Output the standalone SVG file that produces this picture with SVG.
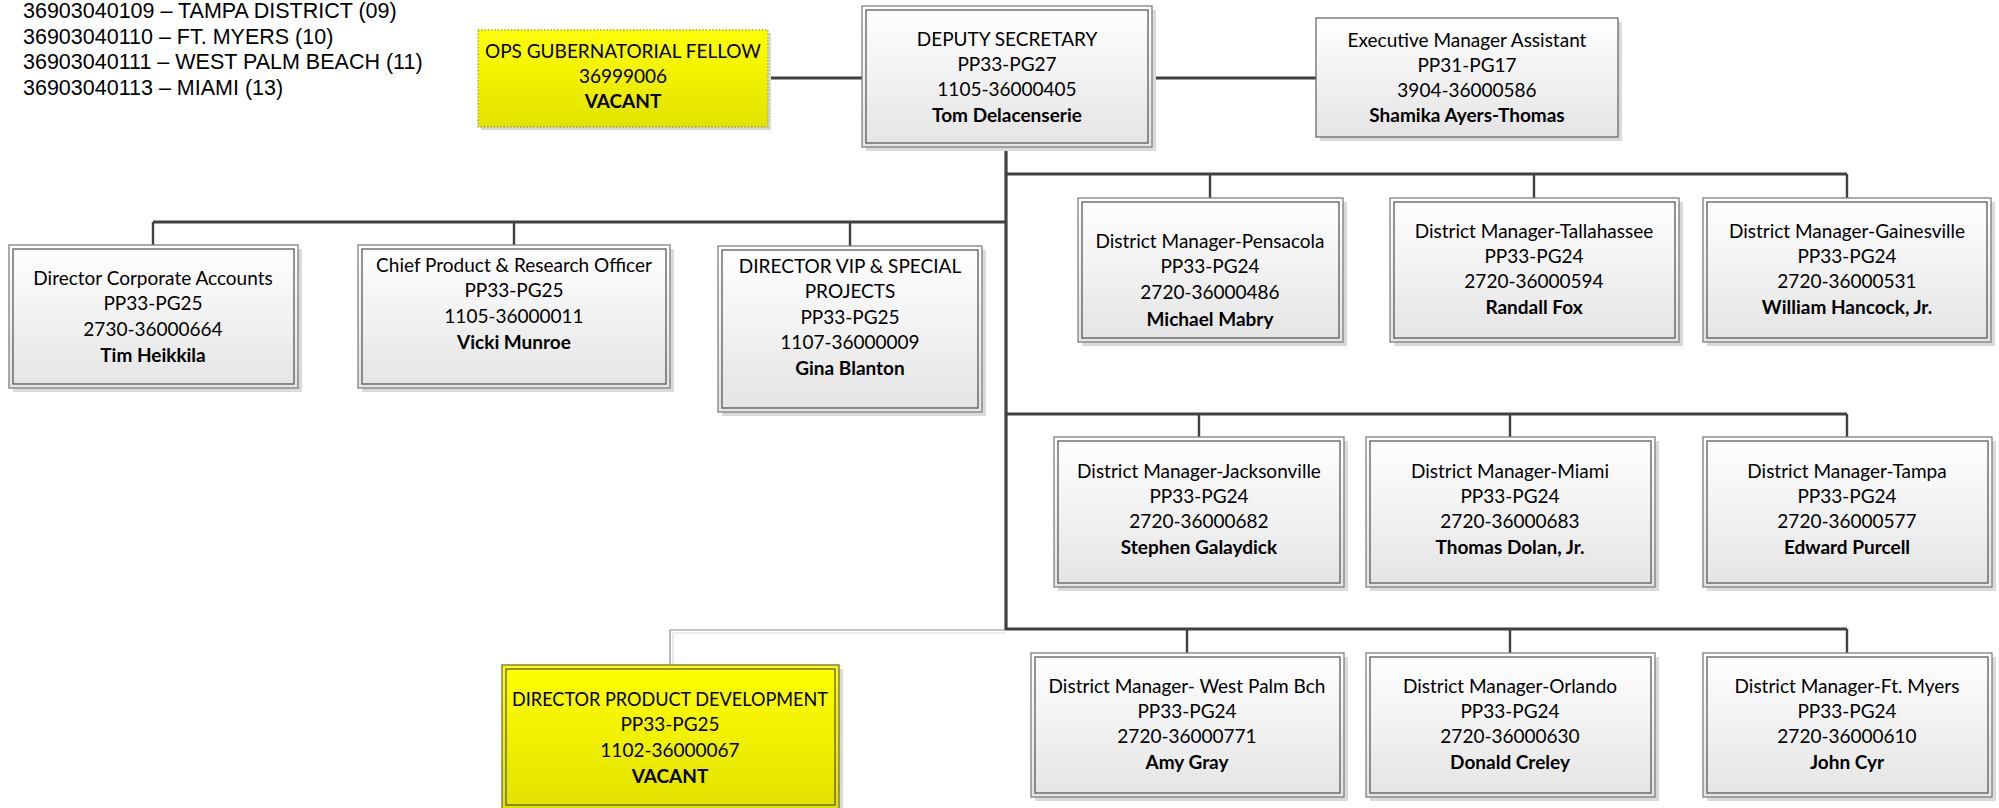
<svg xmlns="http://www.w3.org/2000/svg" width="1999" height="808" viewBox="0 0 1999 808">
  <defs>
    <linearGradient id="gFill" x1="0" y1="0" x2="0" y2="1">
      <stop offset="0" stop-color="#ffffff"/>
      <stop offset="1" stop-color="#e4e4e4"/>
    </linearGradient>
    <linearGradient id="yFill" x1="0" y1="0" x2="0" y2="1">
      <stop offset="0" stop-color="#ffff00"/>
      <stop offset="1" stop-color="#e2e200"/>
    </linearGradient>
  </defs>
  <style>
    .bg { fill: #ffffff; }
    .shadow { fill: #dadada; }
    .outer { fill: url(#gFill); stroke: #7f7f7f; stroke-width: 1.3; }
    .inner { fill: none; stroke: #5a5a5a; stroke-width: 1.3; }
    .single { fill: url(#gFill); stroke: #6a6a6a; stroke-width: 1.3; }
    .youter { fill: url(#yFill); stroke: #6f6f45; stroke-width: 1.3; }
    .yinner { fill: none; stroke: #5a5a3a; stroke-width: 1.3; }
    .ydot { fill: url(#yFill); stroke: #9a9a30; stroke-width: 1.3; stroke-dasharray: 1.3 2; }
    .t { font-family: Lato, "Liberation Sans", sans-serif; font-size: 19px; fill: #000; text-anchor: middle; }
    .b { font-weight: bold; }
    .legend { font-family: "Liberation Sans", Arial, sans-serif; font-size: 21.5px; fill: #000; }
    .main { fill: none; stroke: #404040; stroke-width: 3.2; }
    .drop { fill: none; stroke: #404040; stroke-width: 2.4; }
    .thin { fill: none; stroke: #8a8a8a; stroke-width: 1.2; }
    .thinShadow { fill: none; stroke: #dcdcdc; stroke-width: 1.2; }
  </style>

  <rect class="bg" x="0" y="0" width="1999" height="808"/>

  <!-- district code legend -->
  <g id="legend">
    <text class="legend" x="23" y="18">36903040109 – TAMPA DISTRICT (09)</text>
    <text class="legend" x="23" y="43.5">36903040110 – FT. MYERS (10)</text>
    <text class="legend" x="23" y="69">36903040111 – WEST PALM BEACH (11)</text>
    <text class="legend" x="23" y="94.5">36903040113 – MIAMI (13)</text>
  </g>

  <!-- reporting lines -->
  <g id="connectors">
    <path class="thinShadow" d="M1006,633 H673 V665"/>
    <path class="thin" d="M1006,630 H670 V665"/>
    <path class="main" d="M768,78 H862"/>
    <path class="main" d="M1152,78 H1316"/>
    <path class="main" d="M1006,147 V630"/>
    <path class="main" d="M153,222 H1006"/>
    <path class="main" d="M1006,174 H1847"/>
    <path class="main" d="M1006,414 H1847"/>
    <path class="main" d="M1006,629 H1847"/>
    <path class="drop" d="M153,222 V245 M514,222 V245 M850,222 V246"/>
    <path class="drop" d="M1210,174 V198 M1534,174 V198 M1847,174 V198"/>
    <path class="drop" d="M1199,414 V437 M1510,414 V437 M1847,414 V437"/>
    <path class="drop" d="M1187,629 V653 M1510,629 V653 M1847,629 V653"/>
  </g>

  <g id="ops-fellow">
    <rect class="shadow" x="481" y="33" width="290" height="97"/>
    <rect class="ydot" x="478" y="30" width="290" height="97"/>
    <text class="t" x="623" y="58">OPS GUBERNATORIAL FELLOW</text>
    <text class="t" x="623" y="83">36999006</text>
    <text class="t b" x="623" y="108">VACANT</text>
  </g>

  <g id="deputy-secretary">
    <rect class="shadow" x="866" y="10" width="290" height="141"/>
    <rect class="outer" x="862" y="6" width="290" height="141"/>
    <rect class="inner" x="866" y="10" width="282" height="133"/>
    <text class="t" x="1007" y="46">DEPUTY SECRETARY</text>
    <text class="t" x="1007" y="71">PP33-PG27</text>
    <text class="t" x="1007" y="96">1105-36000405</text>
    <text class="t b" x="1007" y="122">Tom Delacenserie</text>
  </g>

  <g id="exec-assistant">
    <rect class="shadow" x="1320" y="22" width="302" height="119"/>
    <rect class="single" x="1316" y="18" width="302" height="119"/>
    <text class="t" x="1467" y="47">Executive Manager Assistant</text>
    <text class="t" x="1467" y="72">PP31-PG17</text>
    <text class="t" x="1467" y="97">3904-36000586</text>
    <text class="t b" x="1467" y="122">Shamika Ayers-Thomas</text>
  </g>

  <g id="dir-corporate">
    <rect class="shadow" x="13" y="249" width="289" height="143"/>
    <rect class="outer" x="9" y="245" width="289" height="143"/>
    <rect class="inner" x="13" y="249" width="281" height="135"/>
    <text class="t" x="153" y="285">Director Corporate Accounts</text>
    <text class="t" x="153" y="310">PP33-PG25</text>
    <text class="t" x="153" y="336">2730-36000664</text>
    <text class="t b" x="153" y="362">Tim Heikkila</text>
  </g>

  <g id="chief-product">
    <rect class="shadow" x="362" y="249" width="312" height="143"/>
    <rect class="outer" x="358" y="245" width="312" height="143"/>
    <rect class="inner" x="362" y="249" width="304" height="135"/>
    <text class="t" x="514" y="272">Chief Product &amp; Research Officer</text>
    <text class="t" x="514" y="297">PP33-PG25</text>
    <text class="t" x="514" y="323">1105-36000011</text>
    <text class="t b" x="514" y="349">Vicki Munroe</text>
  </g>

  <g id="dir-vip">
    <rect class="shadow" x="722" y="250" width="264" height="166"/>
    <rect class="outer" x="718" y="246" width="264" height="166"/>
    <rect class="inner" x="722" y="250" width="256" height="158"/>
    <text class="t" x="850" y="273">DIRECTOR VIP &amp; SPECIAL</text>
    <text class="t" x="850" y="298">PROJECTS</text>
    <text class="t" x="850" y="324">PP33-PG25</text>
    <text class="t" x="850" y="349">1107-36000009</text>
    <text class="t b" x="850" y="375">Gina Blanton</text>
  </g>

  <g id="dm-pensacola">
    <rect class="shadow" x="1082" y="202" width="265" height="144"/>
    <rect class="outer" x="1078" y="198" width="265" height="144"/>
    <rect class="inner" x="1082" y="202" width="257" height="136"/>
    <text class="t" x="1210" y="248">District Manager-Pensacola</text>
    <text class="t" x="1210" y="273">PP33-PG24</text>
    <text class="t" x="1210" y="299">2720-36000486</text>
    <text class="t b" x="1210" y="326">Michael Mabry</text>
  </g>

  <g id="dm-tallahassee">
    <rect class="shadow" x="1394" y="202" width="289" height="144"/>
    <rect class="outer" x="1390" y="198" width="289" height="144"/>
    <rect class="inner" x="1394" y="202" width="281" height="136"/>
    <text class="t" x="1534" y="238">District Manager-Tallahassee</text>
    <text class="t" x="1534" y="263">PP33-PG24</text>
    <text class="t" x="1534" y="288">2720-36000594</text>
    <text class="t b" x="1534" y="314">Randall Fox</text>
  </g>

  <g id="dm-gainesville">
    <rect class="shadow" x="1707" y="202" width="288" height="144"/>
    <rect class="outer" x="1703" y="198" width="288" height="144"/>
    <rect class="inner" x="1707" y="202" width="280" height="136"/>
    <text class="t" x="1847" y="238">District Manager-Gainesville</text>
    <text class="t" x="1847" y="263">PP33-PG24</text>
    <text class="t" x="1847" y="288">2720-36000531</text>
    <text class="t b" x="1847" y="314">William Hancock, Jr.</text>
  </g>

  <g id="dm-jacksonville">
    <rect class="shadow" x="1058" y="441" width="290" height="150"/>
    <rect class="outer" x="1054" y="437" width="290" height="150"/>
    <rect class="inner" x="1058" y="441" width="282" height="142"/>
    <text class="t" x="1199" y="478">District Manager-Jacksonville</text>
    <text class="t" x="1199" y="503">PP33-PG24</text>
    <text class="t" x="1199" y="528">2720-36000682</text>
    <text class="t b" x="1199" y="554">Stephen Galaydick</text>
  </g>

  <g id="dm-miami">
    <rect class="shadow" x="1370" y="441" width="289" height="150"/>
    <rect class="outer" x="1366" y="437" width="289" height="150"/>
    <rect class="inner" x="1370" y="441" width="281" height="142"/>
    <text class="t" x="1510" y="478">District Manager-Miami</text>
    <text class="t" x="1510" y="503">PP33-PG24</text>
    <text class="t" x="1510" y="528">2720-36000683</text>
    <text class="t b" x="1510" y="554">Thomas Dolan, Jr.</text>
  </g>

  <g id="dm-tampa">
    <rect class="shadow" x="1707" y="441" width="289" height="150"/>
    <rect class="outer" x="1703" y="437" width="289" height="150"/>
    <rect class="inner" x="1707" y="441" width="281" height="142"/>
    <text class="t" x="1847" y="478">District Manager-Tampa</text>
    <text class="t" x="1847" y="503">PP33-PG24</text>
    <text class="t" x="1847" y="528">2720-36000577</text>
    <text class="t b" x="1847" y="554">Edward Purcell</text>
  </g>

  <g id="dm-west-palm">
    <rect class="shadow" x="1035" y="657" width="313" height="144"/>
    <rect class="outer" x="1031" y="653" width="313" height="144"/>
    <rect class="inner" x="1035" y="657" width="305" height="136"/>
    <text class="t" x="1187" y="693">District Manager- West Palm Bch</text>
    <text class="t" x="1187" y="718">PP33-PG24</text>
    <text class="t" x="1187" y="743">2720-36000771</text>
    <text class="t b" x="1187" y="769">Amy Gray</text>
  </g>

  <g id="dm-orlando">
    <rect class="shadow" x="1370" y="657" width="289" height="144"/>
    <rect class="outer" x="1366" y="653" width="289" height="144"/>
    <rect class="inner" x="1370" y="657" width="281" height="136"/>
    <text class="t" x="1510" y="693">District Manager-Orlando</text>
    <text class="t" x="1510" y="718">PP33-PG24</text>
    <text class="t" x="1510" y="743">2720-36000630</text>
    <text class="t b" x="1510" y="769">Donald Creley</text>
  </g>

  <g id="dm-ft-myers">
    <rect class="shadow" x="1707" y="657" width="289" height="144"/>
    <rect class="outer" x="1703" y="653" width="289" height="144"/>
    <rect class="inner" x="1707" y="657" width="281" height="136"/>
    <text class="t" x="1847" y="693">District Manager-Ft. Myers</text>
    <text class="t" x="1847" y="718">PP33-PG24</text>
    <text class="t" x="1847" y="743">2720-36000610</text>
    <text class="t b" x="1847" y="769">John Cyr</text>
  </g>

  <g id="dir-product-dev">
    <rect class="shadow" x="506" y="669" width="337" height="145"/>
    <rect class="youter" x="502" y="665" width="337" height="145"/>
    <rect class="yinner" x="506" y="669" width="329" height="136"/>
    <text class="t" x="670" y="706" textLength="316" lengthAdjust="spacingAndGlyphs">DIRECTOR PRODUCT DEVELOPMENT</text>
    <text class="t" x="670" y="731">PP33-PG25</text>
    <text class="t" x="670" y="757">1102-36000067</text>
    <text class="t b" x="670" y="783">VACANT</text>
  </g>
</svg>
